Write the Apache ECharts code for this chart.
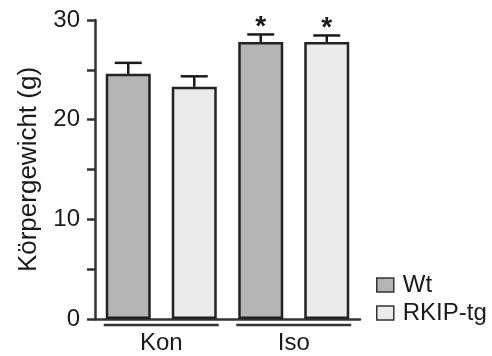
<!DOCTYPE html>
<html>
<head>
<meta charset="utf-8">
<script src="https://cdn.jsdelivr.net/npm/echarts@6/dist/echarts.min.js"></script>
<style>
html,body{margin:0;padding:0;background:#fff;}
#c{width:492px;height:356px;}
</style>
</head>
<body>
<div id="c"></div>
<script>
const categories = ['Kon', 'Iso'];
const seriesNames = ['Wt', 'RKIP-tg'];
const wtMean = [24.6, 27.8];
const wtErr = [1.1, 0.75];
const tgMean = [23.3, 27.8];
const tgErr = [1.05, 0.65];
const wtSig = ['', '*'];
const tgSig = ['', '*'];
const yTicks = [0, 10, 20, 30];

const FONT = "'Liberation Sans', Arial, Helvetica, sans-serif";
const INK = '#1a1a1a';
const BAR_W = 45;
const BAR_GAP = 0.467;
const GAP_PX = BAR_W * BAR_GAP;
const CAP_W = 27;

function errRenderer(side, sig) {
  return function (params, api) {
    const i = api.value(0), m = api.value(1), e = api.value(2);
    const base = api.coord([i, m]);
    const top = api.coord([i, m + e]);
    const x = base[0] + side * (BAR_W + GAP_PX) / 2;
    const children = [
      { type: 'line', shape: { x1: x, y1: base[1], x2: x, y2: top[1] },
        style: { stroke: INK, lineWidth: 2.5 } },
      { type: 'line', shape: { x1: x - CAP_W / 2, y1: top[1], x2: x + CAP_W / 2, y2: top[1] },
        style: { stroke: INK, lineWidth: 2.5 } }
    ];
    const s = sig[params.dataIndex];
    if (s) {
      children.push({ type: 'text', x: x, y: top[1] - 7,
        style: { text: s, fill: INK, font: 'bold 28px ' + FONT, align: 'center', verticalAlign: 'middle' } });
    }
    return { type: 'group', children: children };
  };
}

function groupLineRenderer(params, api) {
  const i = api.value(0);
  const p = api.coord([i, 0]);
  const half = BAR_W + GAP_PX / 2 + 2;
  return { type: 'line', shape: { x1: p[0] - half, y1: p[1] + 6, x2: p[0] + half, y2: p[1] + 6 },
    style: { stroke: '#333', lineWidth: 2.5 } };
}

const chart = echarts.init(document.getElementById('c'), null, { renderer: 'canvas' });
chart.setOption({
  animation: false,
  backgroundColor: '#fff',
  textStyle: { fontFamily: FONT },
  grid: { left: 95, right: 132, top: 20, bottom: 37, containLabel: false },
  legend: {
    data: seriesNames,
    orient: 'vertical',
    left: 371, top: 268,
    itemWidth: 17, itemHeight: 14, itemGap: 4,
    icon: 'rect',
    itemStyle: { borderColor: '#333', borderWidth: 1.5 },
    textStyle: { fontSize: 24, color: INK, fontFamily: FONT, padding: [0, 0, 0, 4] }
  },
  xAxis: {
    type: 'category',
    data: categories,
    axisLine: { show: true, lineStyle: { color: '#333', width: 2.5 } },
    axisTick: { show: false },
    axisLabel: { fontSize: 24, color: INK, margin: 12, fontFamily: FONT },
    splitLine: { show: false }
  },
  yAxis: {
    type: 'value',
    min: 0, max: 30, interval: 10,
    name: 'Körpergewicht (g)',
    nameLocation: 'middle',
    nameGap: 53,
    nameTextStyle: { fontSize: 26, color: INK, fontFamily: FONT },
    axisLine: { show: true, lineStyle: { color: '#333', width: 2.5 } },
    axisTick: { show: true, length: 8, lineStyle: { color: '#333', width: 2.5 } },
    minorTick: { show: true, splitNumber: 2, length: 8, lineStyle: { color: '#333', width: 2.5 } },
    axisLabel: { fontSize: 24, color: INK, margin: 15, fontFamily: FONT,
      formatter: function (v) { return yTicks.indexOf(v) >= 0 ? String(v) : ''; } },
    splitLine: { show: false }
  },
  series: [
    { name: 'Wt', type: 'bar', data: wtMean, barWidth: BAR_W, barGap: (BAR_GAP * 100) + '%',
      itemStyle: { color: '#b4b4b4', borderColor: '#222', borderWidth: 2.5 } },
    { name: 'RKIP-tg', type: 'bar', data: tgMean, barWidth: BAR_W,
      itemStyle: { color: '#ebebeb', borderColor: '#222', borderWidth: 2.5 } },
    { name: 'errWt', type: 'custom', z: 5, clip: false,
      data: wtMean.map(function (m, i) { return [i, m, wtErr[i]]; }),
      renderItem: errRenderer(-1, wtSig) },
    { name: 'errTg', type: 'custom', z: 5, clip: false,
      data: tgMean.map(function (m, i) { return [i, m, tgErr[i]]; }),
      renderItem: errRenderer(1, tgSig) },
    { name: 'groups', type: 'custom', z: 5, clip: false,
      data: categories.map(function (c, i) { return [i, 0]; }),
      renderItem: groupLineRenderer }
  ]
});
</script>
</body>
</html>
